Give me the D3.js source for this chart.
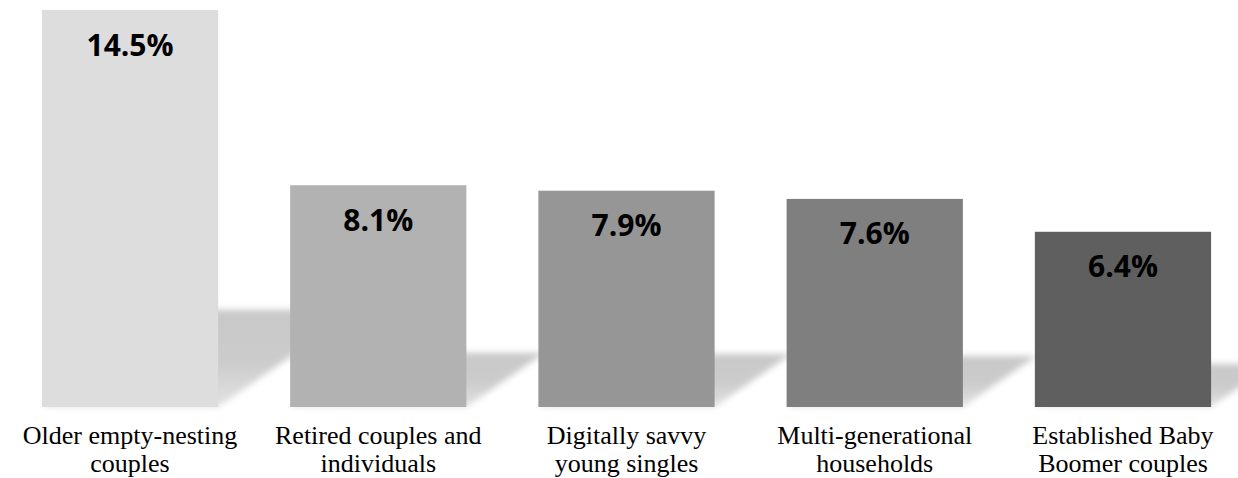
<!DOCTYPE html>
<html>
<head>
<meta charset="utf-8">
<script src="https://cdn.jsdelivr.net/npm/d3@7/dist/d3.min.js"></script>
<style>
  html, body { margin: 0; padding: 0; background: #ffffff; }
  svg { display: block; }
</style>
</head>
<body>
<svg id="chart" width="1238" height="478"></svg>
<script>
// ---- data ----
const categories = [
  ["Older empty-nesting", "couples"],
  ["Retired couples and", "individuals"],
  ["Digitally savvy", "young singles"],
  ["Multi-generational", "households"],
  ["Established Baby", "Boomer couples"]
];
const values = [14.5, 8.1, 7.9, 7.6, 6.4];
const valueLabels = ["14.5%", "8.1%", "7.9%", "7.6%", "6.4%"];
const barColors = ["#dddddd", "#b2b2b2", "#969696", "#7f7f7f", "#5f5f5f"];

// ---- layout ----
const W = 1238, H = 478;
const svg = d3.select("#chart");
const keys = categories.map((d, i) => i);

const x = d3.scaleBand()
  .domain(keys)
  .range([5.9, 1247.1])
  .paddingInner(0.29)
  .paddingOuter(0.145);

const y = d3.scaleLinear()
  .domain([0, 14.5])
  .range([407, 10]);

const defs = svg.append("defs");
const blur = defs.append("filter")
  .attr("id", "shBlur")
  .attr("x", "-20%").attr("y", "-20%")
  .attr("width", "140%").attr("height", "140%");
blur.append("feGaussianBlur").attr("stdDeviation", 3.4);

const grad = defs.append("linearGradient")
  .attr("id", "shGrad")
  .attr("x1", 0).attr("y1", 0).attr("x2", 0).attr("y2", 1);
grad.append("stop").attr("offset", "0%").attr("stop-color", "#c8c8c8");
grad.append("stop").attr("offset", "55%").attr("stop-color", "#cccccc");
grad.append("stop").attr("offset", "100%").attr("stop-color", "#e2e2e2");

// perspective shadows
const k = 0.245, slope = 1.44;
svg.append("g").attr("class", "shadows")
  .selectAll("polygon")
  .data(values)
  .join("polygon")
  .attr("points", (v, i) => {
    const x0 = x(i), x1 = x(i) + x.bandwidth();
    const yb = y(0);
    const sh = k * (y(0) - y(v));
    const dx = slope * sh;
    return [[x0, yb], [x1, yb], [x1 + dx, yb - sh], [x0 + dx, yb - sh]]
      .map(p => p.join(",")).join(" ");
  })
  .attr("fill", "url(#shGrad)")
  .attr("filter", "url(#shBlur)");

// bars
svg.append("g").attr("class", "bars")
  .selectAll("rect")
  .data(values)
  .join("rect")
  .attr("x", (v, i) => x(i))
  .attr("y", v => y(v))
  .attr("width", x.bandwidth())
  .attr("height", v => y(0) - y(v))
  .attr("fill", (v, i) => barColors[i]);

// value labels
svg.append("g").attr("class", "values")
  .selectAll("text")
  .data(values)
  .join("text")
  .attr("x", (v, i) => x(i) + x.bandwidth() / 2)
  .attr("y", v => y(v) + 45.5)
  .attr("text-anchor", "middle")
  .attr("font-family", "'Open Sans', sans-serif")
  .attr("font-weight", "bold")
  .attr("font-size", 30)
  .attr("fill", "#000000")
  .text((v, i) => valueLabels[i]);

// category labels (axis)
const axis = d3.axisBottom(x).tickSize(0).tickFormat(() => "");
const axG = svg.append("g")
  .attr("transform", `translate(0,${y(0)})`)
  .call(axis);
axG.select(".domain").remove();
axG.selectAll(".tick text").remove();
axG.selectAll(".tick")
  .append("text")
  .attr("text-anchor", "middle")
  .attr("font-family", "'Liberation Serif', serif")
  .attr("font-size", 26)
  .attr("fill", "#000000")
  .each(function(d) {
    const t = d3.select(this);
    categories[d].forEach((line, j) => {
      t.append("tspan")
        .attr("x", 0)
        .attr("y", 36.5 + j * 28.8)
        .text(line);
    });
  });
</script>
</body>
</html>
